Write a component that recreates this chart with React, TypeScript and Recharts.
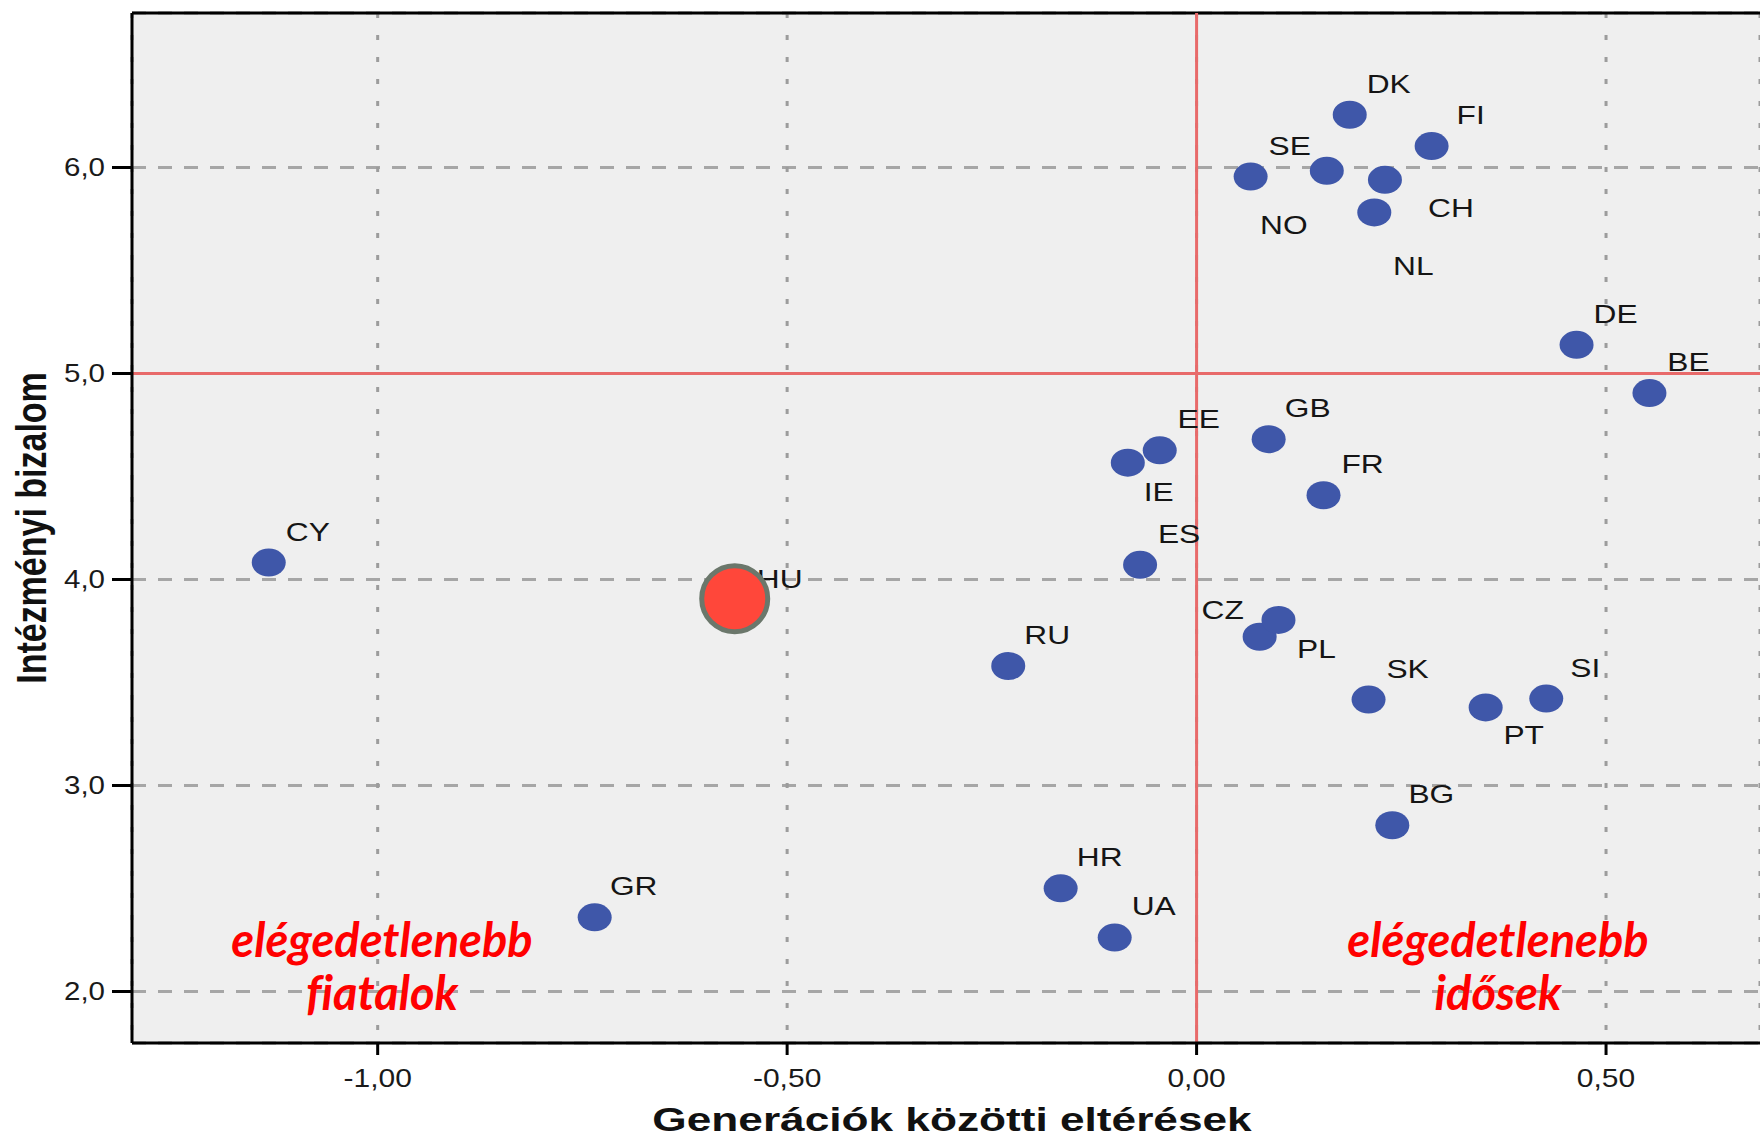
import React from 'react';
import {
  ScatterChart,
  Scatter,
  XAxis,
  YAxis,
  CartesianGrid,
  ReferenceLine,
} from 'recharts';

// countries, generational gap (x) and institutional trust (y)
const COUNTRIES = ['CY', 'HU', 'GR', 'RU', 'HR', 'UA', 'ES', 'IE', 'EE', 'GB', 'FR', 'CZ', 'PL', 'SK', 'PT', 'SI', 'BG', 'DK', 'FI', 'SE', 'NO', 'CH', 'NL', 'DE', 'BE'];
const GAP = [-1.133, -0.564, -0.735, -0.23, -0.166, -0.1, -0.069, -0.084, -0.045, 0.088, 0.155, 0.077, 0.1, 0.21, 0.353, 0.427, 0.239, 0.187, 0.287, 0.066, 0.159, 0.23, 0.217, 0.464, 0.553];
const TRUST = [4.082, 3.907, 2.36, 3.58, 2.501, 2.262, 4.071, 4.567, 4.627, 4.681, 4.409, 3.722, 3.804, 3.417, 3.379, 3.422, 2.807, 6.256, 6.104, 5.956, 5.984, 5.94, 5.782, 5.139, 4.905];
const HIGHLIGHT = 'HU';

const X_TICKS = [-1, -0.5, 0, 0.5];
const Y_TICKS = [2, 3, 4, 5, 6];
const X_TITLE = 'Generációk közötti eltérések';
const Y_TITLE = 'Intézményi bizalom';
const NOTE_LEFT = ['elégedetlenebb', 'fiatalok'];
const NOTE_RIGHT = ['elégedetlenebb', 'idősek'];

const points = COUNTRIES.map((code, i) => ({ code, gap: GAP[i], trust: TRUST[i] }));
const normalPoints = points.filter((p) => p.code !== HIGHLIGHT);
const highlightPoints = points.filter((p) => p.code === HIGHLIGHT);

// where each country label sits relative to its dot
const LABEL_OFFSET: Record<string, [number, number]> = {
  HU: [45, -20],
  IE: [31, 29],
  CZ: [-37, -27],
  PL: [38, 29],
  PT: [38, 28],
  NO: [-43, 54],
  CH: [66, 28],
  NL: [39, 54],
};
const DEFAULT_OFFSET: [number, number] = [39, -31];

const FONT = '"Liberation Sans", Arial, sans-serif';
const comma = (v: number, d: number) => v.toFixed(d).replace('.', ',');

const CountryLabel = ({ cx, cy, code }: any) => {
  const [dx, dy] = LABEL_OFFSET[code] || DEFAULT_OFFSET;
  return (
    <text
      transform={`translate(${cx + dx},${cy + dy}) scale(1.22,1)`}
      textAnchor="middle"
      dominantBaseline="central"
      fontFamily={FONT}
      fontSize={26}
      fill="#151515"
    >
      {code}
    </text>
  );
};

const BlueDot = (props: any) => {
  const { cx, cy, payload } = props;
  return (
    <g>
      <CountryLabel cx={cx} cy={cy} code={payload.code} />
      <ellipse cx={cx} cy={cy} rx={17} ry={14} fill="#3f57a9" />
    </g>
  );
};

const RedDot = (props: any) => {
  const { cx, cy, payload } = props;
  return (
    <g>
      <CountryLabel cx={cx} cy={cy} code={payload.code} />
      <circle cx={cx} cy={cy} r={33} fill="#ff473a" stroke="#6b776b" strokeWidth={5} />
    </g>
  );
};

const YTick = ({ x, y, payload }: any) => (
  <text
    transform={`translate(${x - 5},${y}) scale(1.18,1)`}
    textAnchor="end"
    dominantBaseline="central"
    fontFamily={FONT}
    fontSize={25}
    fill="#1a1a1a"
  >
    {comma(payload.value, 1)}
  </text>
);

const XTick = ({ x, y, payload }: any) => (
  <text
    transform={`translate(${x},${y + 30}) scale(1.2,1)`}
    textAnchor="middle"
    fontFamily={FONT}
    fontSize={25}
    fill="#1a1a1a"
  >
    {comma(payload.value, 2)}
  </text>
);

const XTitle = ({ viewBox }: any) => {
  const vb = viewBox || { x: 132, y: 1043, width: 1628, height: 95 };
  return (
    <text
      transform={`translate(${vb.x + vb.width / 2 + 6},${vb.y + 88}) scale(1.3,1)`}
      textAnchor="middle"
      fontFamily={FONT}
      fontWeight="bold"
      fontSize={34}
      fill="#111"
    >
      {X_TITLE}
    </text>
  );
};

const YTitle = ({ viewBox }: any) => {
  const vb = viewBox || { x: 0, y: 13, width: 132, height: 1030 };
  return (
    <text
      transform={`translate(${vb.x + 46},${vb.y + vb.height / 2}) scale(1.25,1) rotate(-90)`}
      textAnchor="middle"
      fontFamily={FONT}
      fontWeight="bold"
      fontSize={34}
      fill="#111"
    >
      {Y_TITLE}
    </text>
  );
};

const Note = ({ x, lines }: { x: number; lines: string[] }) => (
  <text
    textAnchor="middle"
    fontFamily="Lato, 'Open Sans', sans-serif"
    fontStyle="italic"
    fontWeight="bold"
    fontSize={47}
    fill="#ff0000"
    style={{ fontVariantLigatures: 'none' }}
  >
    <tspan x={x} y={957}>{lines[0]}</tspan>
    <tspan x={x} y={1010}>{lines[1]}</tspan>
  </text>
);

export default function App() {
  return (
    <div style={{ position: 'absolute', left: 0, top: 0, width: 1760, height: 1138, background: '#fff', overflow: 'hidden' }}>
      <ScatterChart width={1760} height={1138} margin={{ top: 13, right: 0, bottom: 0, left: 0 }}>
        <CartesianGrid vertical={false} fill="#efefef" stroke="#a6a6a6" strokeWidth={3} strokeDasharray="14 12" />
        <CartesianGrid horizontal={false} stroke="#9c9c9c" strokeWidth={3} strokeDasharray="5 17" />
        <XAxis
          type="number"
          dataKey="gap"
          domain={[-1.3, 0.688]}
          allowDataOverflow
          ticks={X_TICKS}
          height={95}
          tickSize={12}
          axisLine={{ stroke: '#000', strokeWidth: 3 }}
          tickLine={{ stroke: '#000', strokeWidth: 3 }}
          tick={<XTick />}
          label={<XTitle />}
        />
        <YAxis
          type="number"
          dataKey="trust"
          domain={[1.75, 6.75]}
          allowDataOverflow
          ticks={Y_TICKS}
          width={132}
          tickSize={20}
          axisLine={{ stroke: '#000', strokeWidth: 3 }}
          tickLine={{ stroke: '#000', strokeWidth: 3 }}
          tick={<YTick />}
          label={<YTitle />}
        />
        <ReferenceLine y={6.75} stroke="#000" strokeWidth={3} />
        <ReferenceLine x={0} stroke="#e86a6a" strokeWidth={3} />
        <ReferenceLine y={5} stroke="#e86a6a" strokeWidth={3} />
        <Scatter data={normalPoints} shape={<BlueDot />} isAnimationActive={false} />
        <Scatter data={highlightPoints} shape={<RedDot />} isAnimationActive={false} />
      </ScatterChart>
      <svg width={1760} height={1138} style={{ position: 'absolute', left: 0, top: 0, pointerEvents: 'none' }}>
        <Note x={382} lines={NOTE_LEFT} />
        <Note x={1498} lines={NOTE_RIGHT} />
      </svg>
    </div>
  );
}
